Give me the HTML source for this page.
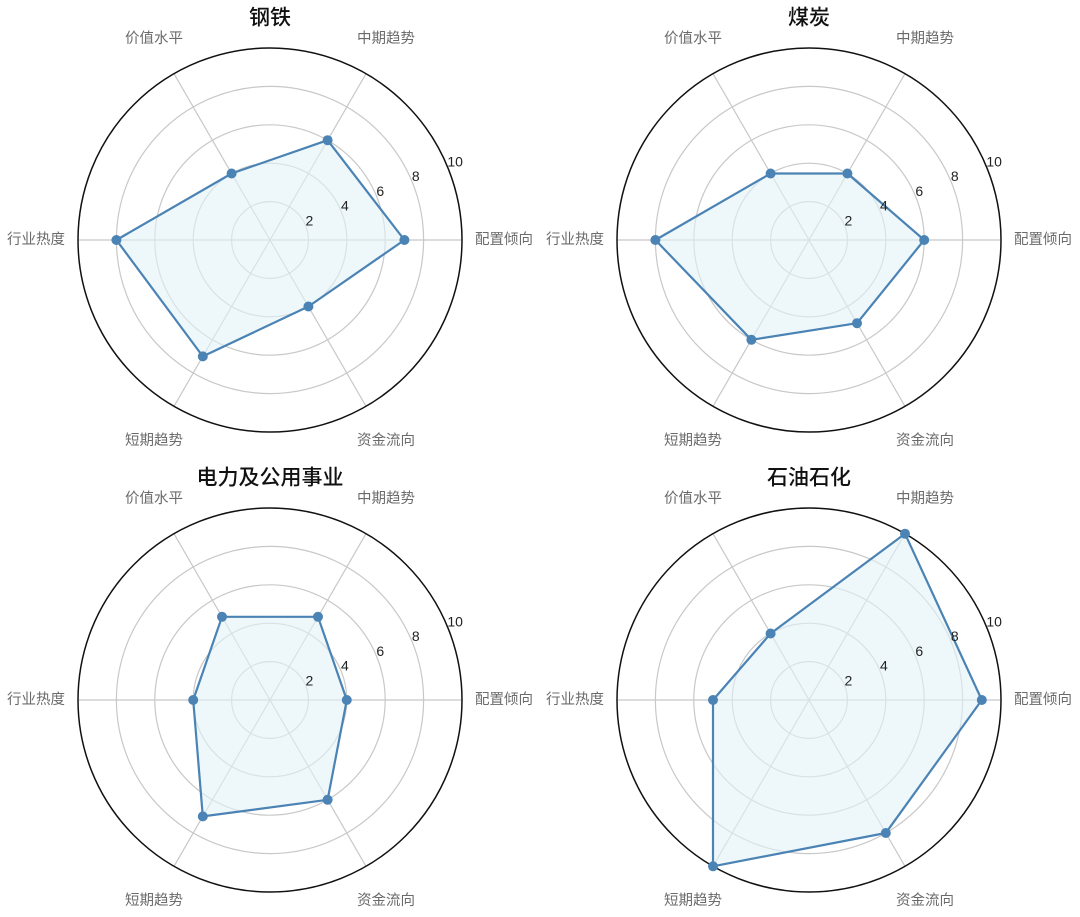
<!DOCTYPE html>
<html><head><meta charset="utf-8"><style>
html,body{margin:0;padding:0;background:#fff;}
svg{display:block;}
.t{font-family:"Liberation Sans","Noto Sans CJK SC",sans-serif;}
.ax{font-size:14.5px;fill:#6b6b6b;text-anchor:middle;dominant-baseline:central;}
.rl{font-size:14px;fill:#222;text-anchor:start;}
.ti{font-size:21px;fill:#111;text-anchor:middle;dominant-baseline:central;font-weight:500;}
polygon{fill:#e3f3f8;fill-opacity:.6;stroke:#4a83b4;stroke-width:2.2;stroke-linejoin:round;}
circle.m{fill:#4a83b4;}
</style></head><body>
<svg width="1080" height="917" viewBox="0 0 1080 917" class="t">
<defs>
<g id="grid" fill="none" stroke="#c8c8c8" stroke-width="1.2">
<circle r="38.4"/><circle r="76.8"/><circle r="115.2"/><circle r="153.6"/>
<line x1="-192" y1="0" x2="192" y2="0"/>
<line x1="-96" y1="-166.3" x2="96" y2="166.3"/>
<line x1="96" y1="-166.3" x2="-96" y2="166.3"/>
<circle r="192" stroke="#111" stroke-width="1.5"/>
</g>
</defs>

<g transform="translate(270,240)">
<use href="#grid"/>
<polygon points="134.4,0 57.6,-99.8 -38.4,-66.5 -153.6,0 -67.2,116.4 38.4,66.5"/>
<circle class="m" cx="134.4" cy="0" r="5"/><circle class="m" cx="57.6" cy="-99.8" r="5"/><circle class="m" cx="-38.4" cy="-66.5" r="5"/><circle class="m" cx="-153.6" cy="0" r="5"/><circle class="m" cx="-67.2" cy="116.4" r="5"/><circle class="m" cx="38.4" cy="66.5" r="5"/>
<text class="rl" x="35.5" y="-14.7">2</text><text class="rl" x="71" y="-29.4">4</text><text class="rl" x="106.4" y="-44.1">6</text><text class="rl" x="141.9" y="-58.8">8</text><text class="rl" x="177.4" y="-73.5">10</text>
<text class="ax" x="234" y="0">配置倾向</text><text class="ax" x="116" y="-201">中期趋势</text><text class="ax" x="-116" y="-201">价值水平</text><text class="ax" x="-234" y="0">行业热度</text><text class="ax" x="-116" y="201">短期趋势</text><text class="ax" x="116" y="201">资金流向</text>
<text class="ti" x="0" y="-222">钢铁</text>
</g>

<g transform="translate(809,240)">
<use href="#grid"/>
<polygon points="115.2,0 38.4,-66.5 -38.4,-66.5 -153.6,0 -57.6,99.8 48,83.2"/>
<circle class="m" cx="115.2" cy="0" r="5"/><circle class="m" cx="38.4" cy="-66.5" r="5"/><circle class="m" cx="-38.4" cy="-66.5" r="5"/><circle class="m" cx="-153.6" cy="0" r="5"/><circle class="m" cx="-57.6" cy="99.8" r="5"/><circle class="m" cx="48" cy="83.2" r="5"/>
<text class="rl" x="35.5" y="-14.7">2</text><text class="rl" x="71" y="-29.4">4</text><text class="rl" x="106.4" y="-44.1">6</text><text class="rl" x="141.9" y="-58.8">8</text><text class="rl" x="177.4" y="-73.5">10</text>
<text class="ax" x="234" y="0">配置倾向</text><text class="ax" x="116" y="-201">中期趋势</text><text class="ax" x="-116" y="-201">价值水平</text><text class="ax" x="-234" y="0">行业热度</text><text class="ax" x="-116" y="201">短期趋势</text><text class="ax" x="116" y="201">资金流向</text>
<text class="ti" x="0" y="-222">煤炭</text>
</g>

<g transform="translate(270,700)">
<use href="#grid"/>
<polygon points="76.8,0 48,-83.2 -48,-83.2 -76.8,0 -67.2,116.4 57.6,99.8"/>
<circle class="m" cx="76.8" cy="0" r="5"/><circle class="m" cx="48" cy="-83.2" r="5"/><circle class="m" cx="-48" cy="-83.2" r="5"/><circle class="m" cx="-76.8" cy="0" r="5"/><circle class="m" cx="-67.2" cy="116.4" r="5"/><circle class="m" cx="57.6" cy="99.8" r="5"/>
<text class="rl" x="35.5" y="-14.7">2</text><text class="rl" x="71" y="-29.4">4</text><text class="rl" x="106.4" y="-44.1">6</text><text class="rl" x="141.9" y="-58.8">8</text><text class="rl" x="177.4" y="-73.5">10</text>
<text class="ax" x="234" y="0">配置倾向</text><text class="ax" x="116" y="-201">中期趋势</text><text class="ax" x="-116" y="-201">价值水平</text><text class="ax" x="-234" y="0">行业热度</text><text class="ax" x="-116" y="201">短期趋势</text><text class="ax" x="116" y="201">资金流向</text>
<text class="ti" x="0" y="-222">电力及公用事业</text>
</g>

<g transform="translate(809,700)">
<use href="#grid"/>
<polygon points="172.8,0 96,-166.3 -38.4,-66.5 -96,0 -96,166.3 76.8,133"/>
<circle class="m" cx="172.8" cy="0" r="5"/><circle class="m" cx="96" cy="-166.3" r="5"/><circle class="m" cx="-38.4" cy="-66.5" r="5"/><circle class="m" cx="-96" cy="0" r="5"/><circle class="m" cx="-96" cy="166.3" r="5"/><circle class="m" cx="76.8" cy="133" r="5"/>
<text class="rl" x="35.5" y="-14.7">2</text><text class="rl" x="71" y="-29.4">4</text><text class="rl" x="106.4" y="-44.1">6</text><text class="rl" x="141.9" y="-58.8">8</text><text class="rl" x="177.4" y="-73.5">10</text>
<text class="ax" x="234" y="0">配置倾向</text><text class="ax" x="116" y="-201">中期趋势</text><text class="ax" x="-116" y="-201">价值水平</text><text class="ax" x="-234" y="0">行业热度</text><text class="ax" x="-116" y="201">短期趋势</text><text class="ax" x="116" y="201">资金流向</text>
<text class="ti" x="0" y="-222">石油石化</text>
</g>
</svg>
</body></html>
